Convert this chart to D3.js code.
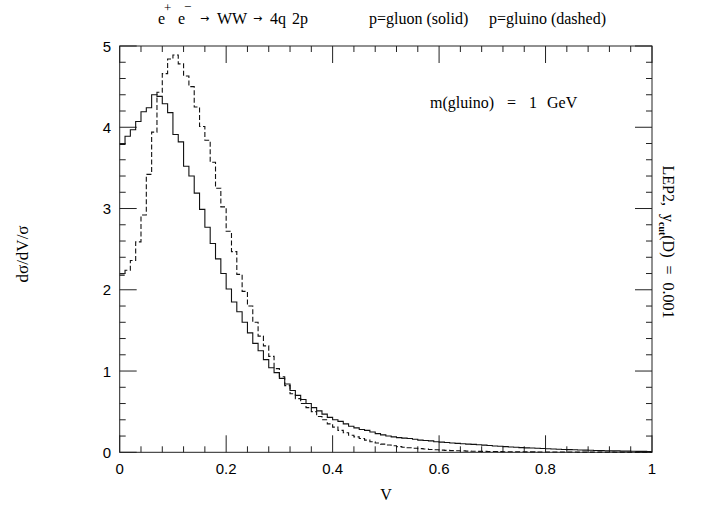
<!DOCTYPE html>
<html><head><meta charset="utf-8">
<script src="https://cdn.jsdelivr.net/npm/d3@7"></script>
<style>body{margin:0;background:#fff}svg{display:block}</style>
</head><body>
<script>
const binEdges = d3.range(0, 1.0001, 0.01).map(v => +v.toFixed(2));
const gluon = [3.79,3.89,3.97,4.07,4.19,4.24,4.40,4.38,4.29,4.18,
 3.91,3.82,3.52,3.40,3.19,2.99,2.77,2.57,2.38,2.20,
 2.01,1.85,1.73,1.60,1.47,1.34,1.25,1.14,1.04,0.98,
 0.91,0.84,0.76,0.70,0.65,0.60,0.55,0.51,0.47,0.43,
 0.40,0.38,0.35,0.32,0.30,0.28,0.27,0.25,0.23,0.215,
 0.20,0.19,0.18,0.175,0.17,0.16,0.15,0.145,0.14,0.13,
 0.125,0.12,0.115,0.11,0.105,0.10,0.097,0.093,0.088,0.083,
 0.078,0.074,0.070,0.066,0.062,0.058,0.055,0.052,0.049,0.046,
 0.043,0.040,0.037,0.035,0.033,0.031,0.029,0.027,0.025,0.023,
 0.021,0.020,0.018,0.017,0.015,0.014,0.013,0.012,0.011,0.010];
const gluino = [2.18,2.24,2.36,2.59,2.92,3.42,3.94,4.43,4.66,4.84,
 4.89,4.78,4.63,4.50,4.25,4.01,3.84,3.57,3.25,3.02,
 2.72,2.47,2.19,1.98,1.80,1.60,1.43,1.31,1.18,1.03,
 0.93,0.82,0.72,0.66,0.60,0.55,0.50,0.44,0.40,0.35,
 0.31,0.27,0.24,0.21,0.19,0.17,0.15,0.13,0.115,0.10,
 0.09,0.08,0.07,0.063,0.056,0.05,0.045,0.04,0.035,0.031,
 0.027,0.024,0.021,0.019,0.017,0.015,0.013,0.012,0.011,0.010,
 0.009,0.008,0.0075,0.007,0.0065,0.006,0.0055,0.005,0.0045,0.004,
 0.004,0.0035,0.0035,0.003,0.003,0.003,0.0025,0.0025,0.0025,0.002,
 0.002,0.002,0.002,0.0015,0.0015,0.0015,0.0015,0.001,0.001,0.001];
const xTicks = [0, 0.2, 0.4, 0.6, 0.8, 1];
const xTickLabels = ["0", "0.2", "0.4", "0.6", "0.8", "1"];
const yTicks = [0, 1, 2, 3, 4, 5];
const yTickLabels = ["0", "1", "2", "3", "4", "5"];

const W = 701, H = 513;
const L = 119.7, R = 652, T = 46, B = 452.3;
const svg = d3.select("body").append("svg").attr("width", W).attr("height", H);
const x = d3.scaleLinear().domain([0, 1]).range([L, R]);
const y = d3.scaleLinear().domain([0, 5]).range([B, T]);

const serif = "'Liberation Serif', 'DejaVu Serif', serif";
const sans = "'Liberation Sans', Arial, sans-serif";

// frame
svg.append("rect").attr("x", L).attr("y", T).attr("width", R - L).attr("height", B - T)
  .attr("fill", "none").attr("stroke", "#222").attr("stroke-width", 1);

const MAJ = 17, MIN = 6;
const tg = svg.append("g").attr("stroke", "#222").attr("stroke-width", 1);
const xMinor = d3.range(0, 1.0001, 0.04).map(v => +v.toFixed(2));
xMinor.forEach(v => {
  const major = xTicks.some(t => Math.abs(t - v) < 1e-6);
  const len = major ? MAJ : MIN;
  tg.append("line").attr("x1", x(v)).attr("x2", x(v)).attr("y1", B).attr("y2", B - len);
  tg.append("line").attr("x1", x(v)).attr("x2", x(v)).attr("y1", T).attr("y2", T + len);
});
const yMinor = d3.range(0, 5.0001, 0.2).map(v => +v.toFixed(1));
yMinor.forEach(v => {
  const major = yTicks.some(t => Math.abs(t - v) < 1e-6);
  const len = major ? MAJ : MIN;
  tg.append("line").attr("y1", y(v)).attr("y2", y(v)).attr("x1", L).attr("x2", L + len);
  tg.append("line").attr("y1", y(v)).attr("y2", y(v)).attr("x1", R).attr("x2", R - len);
});

// tick labels
xTicks.forEach((v, i) => {
  svg.append("text").attr("x", x(v)).attr("y", 474).attr("text-anchor", "middle")
    .attr("font-family", sans).attr("font-size", 15).text(xTickLabels[i]);
});
yTicks.forEach((v, i) => {
  svg.append("text").attr("x", 111).attr("y", y(v) + 5.5).attr("text-anchor", "end")
    .attr("font-family", sans).attr("font-size", 15).text(yTickLabels[i]);
});

// histograms
function stepData(vals) {
  const pts = vals.map((v, i) => [binEdges[i], v]);
  pts.push([binEdges[vals.length], vals[vals.length - 1]]);
  return pts;
}
const line = d3.line().x(d => x(d[0])).y(d => y(d[1])).curve(d3.curveStepAfter);
svg.append("path").attr("d", line(stepData(gluon))).attr("fill", "none")
  .attr("stroke", "#111").attr("stroke-width", 1.1);
svg.append("path").attr("d", line(stepData(gluino))).attr("fill", "none")
  .attr("stroke", "#111").attr("stroke-width", 1.1).attr("stroke-dasharray", "5,2.5");

// title
function txt(xp, yp, s, size, fam) {
  return svg.append("text").attr("x", xp).attr("y", yp).attr("font-family", fam || serif)
    .attr("font-size", size || 16).text(s);
}
const arrowFam = "'DejaVu Sans', sans-serif";
txt(158, 24, "e");
txt(164, 12, "+", 13);
txt(178, 24, "e");
txt(184, 11, "\u2212", 13);
txt(200, 22, "\u2192", 11, arrowFam);
txt(217, 24, "WW");
txt(253, 22, "\u2192", 11, arrowFam);
txt(270, 24, "4q");
txt(292, 24, "2p");
txt(369, 24, "p=gluon (solid)");
txt(489, 24, "p=gluino (dashed)");

txt(430, 108, "m(gluino)");
txt(507, 108, "=");
txt(529, 108, "1");
txt(547, 108, "GeV");

// axis labels
svg.append("text").attr("x", 386).attr("y", 500).attr("text-anchor", "middle")
  .attr("font-family", serif).attr("font-size", 16).text("V");
svg.append("text").attr("transform", "translate(28,254) rotate(-90)").attr("text-anchor", "middle")
  .attr("font-family", serif).attr("font-size", 17).text("d\u03c3/dV/\u03c3");

const rl = svg.append("text").attr("transform", "translate(663,242) rotate(90)").attr("text-anchor", "middle")
  .attr("font-family", serif).attr("font-size", 16).attr("xml:space", "preserve");
rl.append("tspan").text("LEP2,  y");
rl.append("tspan").attr("dy", 4).attr("font-size", 10).attr("font-weight", "bold").text("cut");
rl.append("tspan").attr("dy", -4).text("(D)  =  0.001");
</script>
</body></html>
